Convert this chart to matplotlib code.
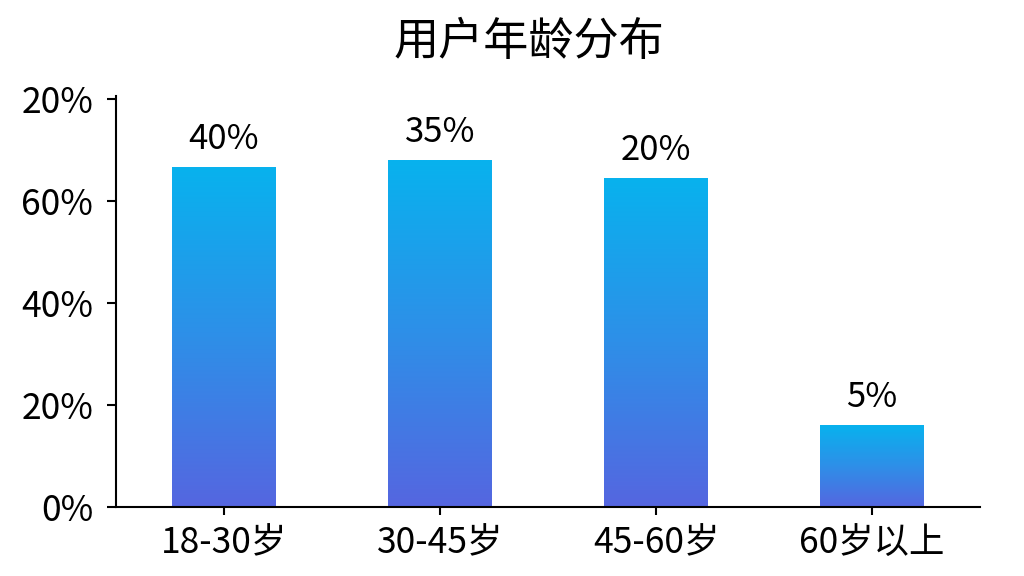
import numpy as np
import matplotlib.pyplot as plt
from matplotlib.colors import LinearSegmentedColormap

plt.rcParams['font.family'] = ['Noto Sans CJK SC', 'DejaVu Sans']

# 数据
categories = ['18-30岁', '30-45岁', '45-60岁', '60岁以上']
bar_heights = [66.5, 67.9, 64.4, 16.0]
value_labels = ['40%', '35%', '20%', '5%']
y_ticks = [0, 20, 40, 60, 80]
y_tick_labels = ['0%', '20%', '40%', '60%', '20%']

fig = plt.figure(figsize=(10.24, 5.76), dpi=100)
ax = fig.add_axes([0.1133, 0.1198, 0.8437, 0.7135])

x = np.arange(len(categories))
bars = ax.bar(x, bar_heights, width=0.477, color='none', edgecolor='none', zorder=2)

# 渐变填充
cmap = LinearSegmentedColormap.from_list('grad', ['#5566E0', '#2E8FE8', '#08B2EE'])
grad = np.linspace(0, 1, 256).reshape(-1, 1)
for b in bars:
    x0, w, h = b.get_x(), b.get_width(), b.get_height()
    im = ax.imshow(grad, extent=[x0, x0 + w, 0, h], origin='lower',
                   aspect='auto', cmap=cmap, zorder=2)
    im.set_clip_path(b)

for xi, h, lab in zip(x, bar_heights, value_labels):
    ax.text(xi, h + 2.0, lab, ha='center', va='bottom', fontsize=25)

ax.set_xlim(-0.5, 3.5)
ax.set_ylim(0, 80.5)
ax.set_xticks(x)
ax.set_xticklabels(categories, fontsize=25.5)
ax.set_yticks(y_ticks)
ax.set_yticklabels(y_tick_labels, fontsize=25.5)

for s in ['top', 'right']:
    ax.spines[s].set_visible(False)
for s in ['left', 'bottom']:
    ax.spines[s].set_linewidth(1.5)
ax.tick_params(axis='y', length=6.5, width=1.5, pad=10)
ax.tick_params(axis='x', length=6, width=1.5, pad=7)

fig.text(0.517, 0.927, '用户年龄分布', ha='center', va='center', fontsize=32.5)

fig.savefig('out.png', dpi=100)
